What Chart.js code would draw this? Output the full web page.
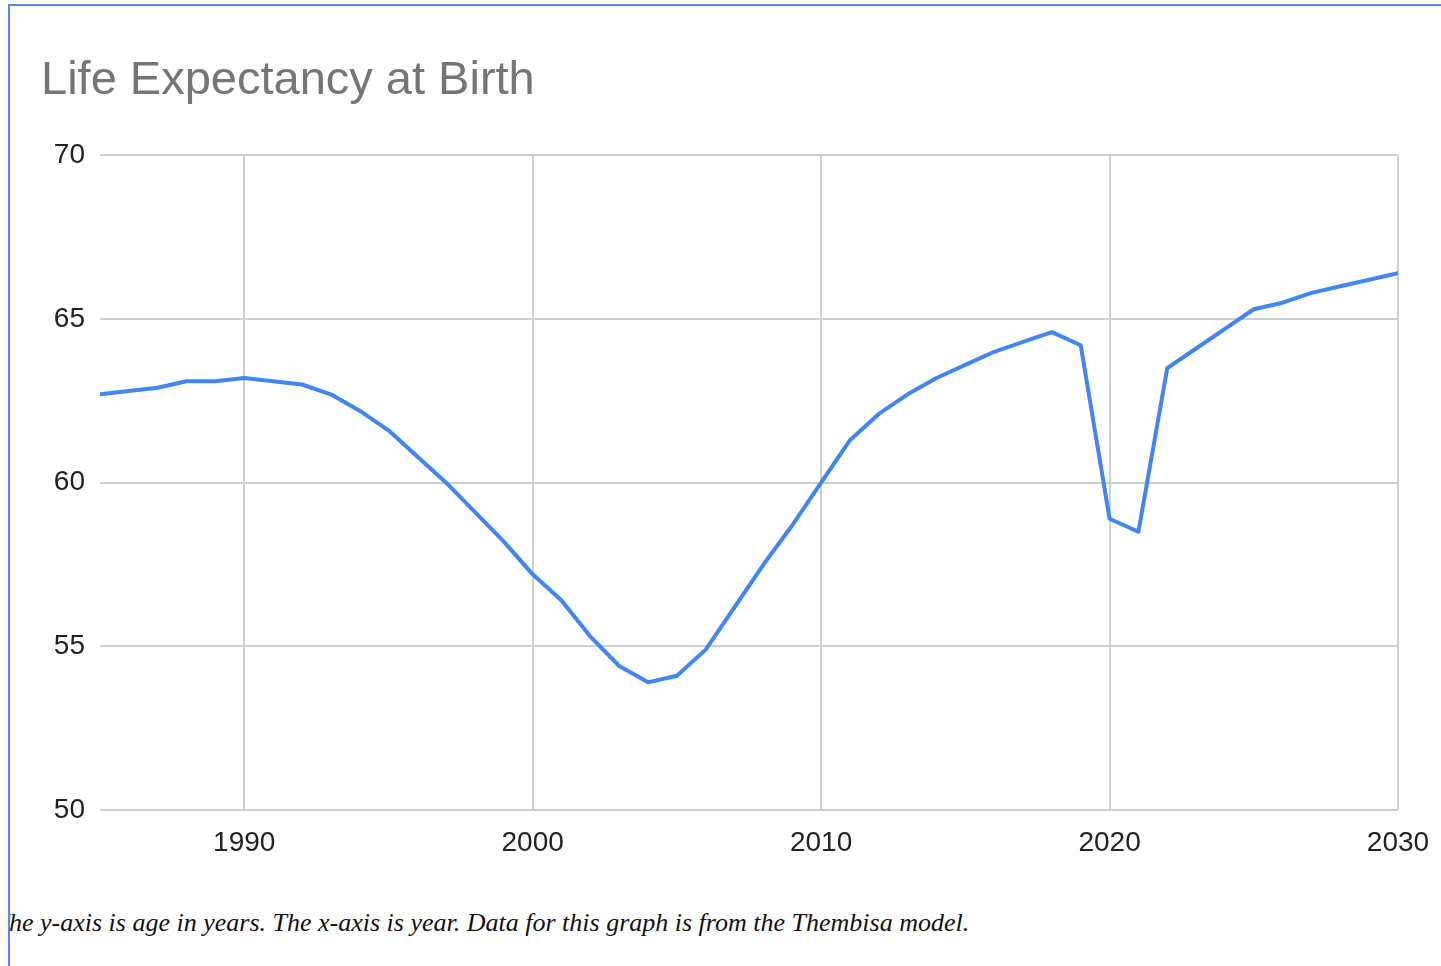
<!DOCTYPE html>
<html>
<head>
<meta charset="utf-8">
<title>Life Expectancy at Birth</title>
<script src="https://cdn.jsdelivr.net/npm/chart.js@4.4.1/dist/chart.umd.min.js"></script>
<style>
  html, body { margin: 0; padding: 0; background: #fff; width: 1441px; height: 966px; overflow: hidden; }
  #wrap { position: absolute; left: 0; top: 0; width: 1441px; height: 880px; }
  #frame {
    position: absolute; left: 8px; top: 4px; right: 0; bottom: 0;
    border-top: 2px solid #5f87dc; border-left: 2px solid #5f87dc;
    pointer-events: none; z-index: 2;
  }
  #caption {
    position: absolute; left: 10px; top: 908px; right: 0;
    overflow: hidden; white-space: nowrap;
    font: italic 26px "Liberation Serif", "Times New Roman", serif; color: #111;
  }
  #caption span { display: inline-block; margin-left: -15.5px; }
</style>
</head>
<body>
<div id="wrap"><canvas id="chart" width="1441" height="880"></canvas></div>
<div id="frame"></div>
<div id="caption"><span>The y-axis is age in years. The x-axis is year. Data for this graph is from the Thembisa model.</span></div>
<script>
// Life expectancy at birth by year (Thembisa model)
const years = [
  1985, 1986, 1987, 1988, 1989, 1990, 1991, 1992, 1993, 1994,
  1995, 1996, 1997, 1998, 1999, 2000, 2001, 2002, 2003, 2004,
  2005, 2006, 2007, 2008, 2009, 2010, 2011, 2012, 2013, 2014,
  2015, 2016, 2017, 2018, 2019, 2020, 2021, 2022, 2023, 2024,
  2025, 2026, 2027, 2028, 2029, 2030
];
const lifeExpectancy = [
  62.7, 62.8, 62.9, 63.1, 63.1, 63.2, 63.1, 63.0, 62.7, 62.2,
  61.6, 60.8, 60.0, 59.1, 58.2, 57.2, 56.4, 55.3, 54.4, 53.9,
  54.1, 54.9, 56.2, 57.5, 58.7, 60.0, 61.3, 62.1, 62.7, 63.2,
  63.6, 64.0, 64.3, 64.6, 64.2, 58.9, 58.5, 63.5, 64.1, 64.7,
  65.3, 65.5, 65.8, 66.0, 66.2, 66.4
];
const xTickValues = [1990, 2000, 2010, 2020, 2030];
const yTickValues = [50, 55, 60, 65, 70];
const chartTitle = 'Life Expectancy at Birth';

const points = years.map((yr, i) => ({ x: yr, y: lifeExpectancy[i] }));
const tickFont = { family: '"Liberation Sans", Arial, sans-serif', size: 28 };
const gridStyle = { color: '#cfcfcf', lineWidth: 2, drawTicks: false };

new Chart(document.getElementById('chart'), {
  type: 'line',
  data: {
    datasets: [{
      label: chartTitle,
      data: points,
      borderColor: '#4285f4',
      borderWidth: 4,
      borderJoinStyle: 'round',
      borderCapStyle: 'round',
      pointRadius: 0,
      tension: 0,
      fill: false
    }]
  },
  options: {
    responsive: false,
    animation: false,
    layout: { padding: { left: 41, right: 43, top: 0, bottom: 10 } },
    plugins: {
      legend: { display: false },
      tooltip: { enabled: false },
      title: {
        display: true,
        text: chartTitle,
        align: 'start',
        color: '#757575',
        font: { family: '"Liberation Sans", Arial, sans-serif', size: 47, weight: 'normal' },
        padding: { top: 53, bottom: 46 }
      }
    },
    scales: {
      x: {
        type: 'linear',
        min: years[0],
        max: years[years.length - 1],
        grid: gridStyle,
        border: { display: false },
        afterBuildTicks: s => { s.ticks = xTickValues.map(v => ({ value: v })); },
        afterFit: s => { s.height = 60; s.paddingLeft = 0; s.paddingRight = 0; },
        ticks: {
          color: '#222',
          font: tickFont,
          padding: 16,
          maxRotation: 0,
          callback: v => String(v)
        }
      },
      y: {
        min: yTickValues[0],
        max: yTickValues[yTickValues.length - 1],
        grid: gridStyle,
        border: { display: false },
        afterBuildTicks: s => { s.ticks = yTickValues.map(v => ({ value: v })); },
        afterFit: s => { s.width = 59; },
        ticks: {
          color: '#222',
          font: tickFont,
          padding: 15,
          callback: v => String(v)
        }
      }
    }
  }
});
</script>
</body>
</html>
